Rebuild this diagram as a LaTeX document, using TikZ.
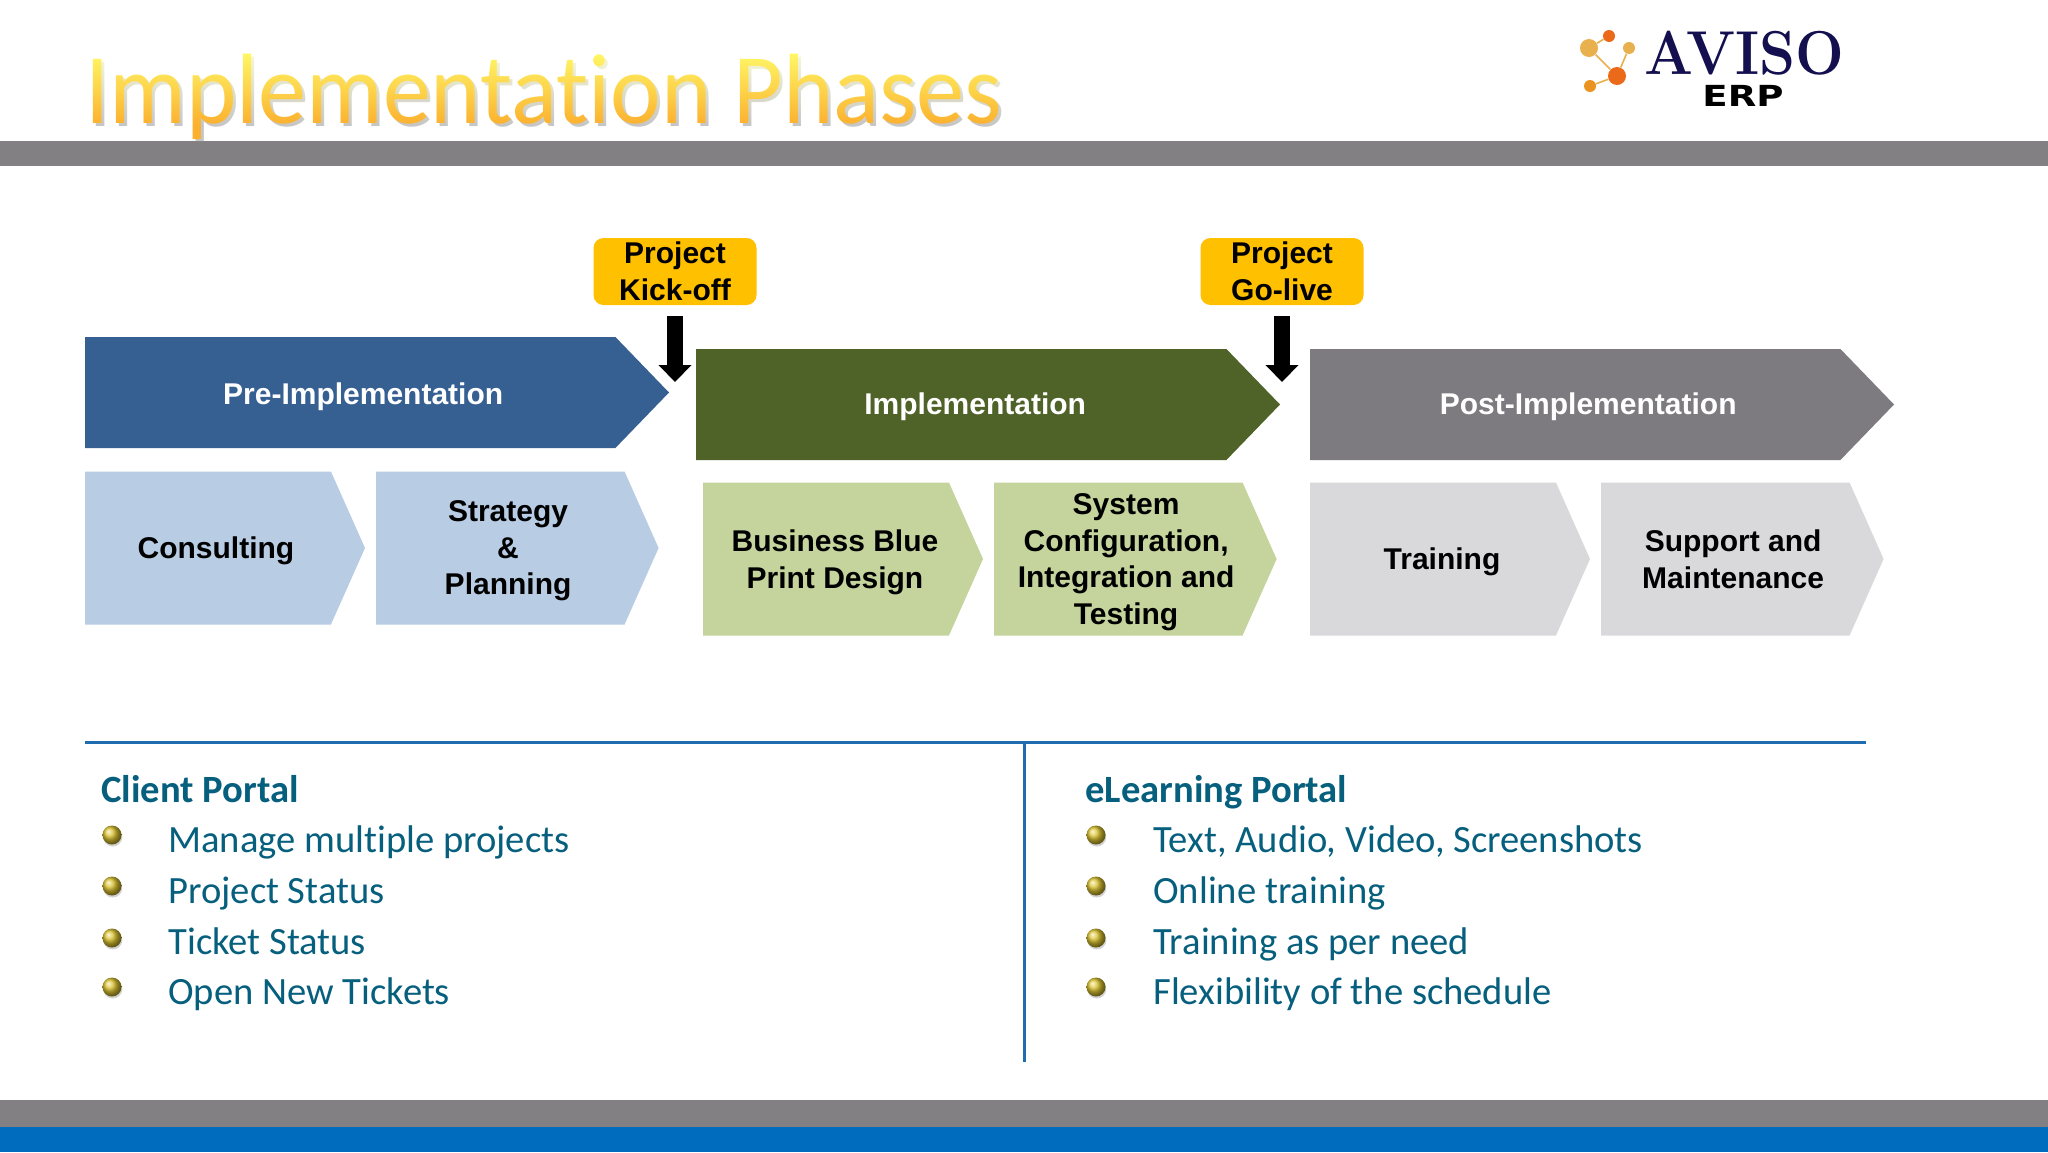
\documentclass[tikz,border=0pt]{standalone}
\usepackage{fontspec}
\setmainfont{Liberation Sans}
\newfontfamily\calibri[Ligatures=NoCommon]{Carlito}
\newfontfamily\dejavu{DejaVu Sans}
\newfontfamily\lmroman{Latin Modern Roman}
\usetikzlibrary{arrows.meta,positioning,shapes.symbols,shadows}
\definecolor{preblue}{HTML}{376092}
\definecolor{implgreen}{HTML}{4F6228}
\definecolor{postgrey}{HTML}{7D7B80}
\definecolor{subblue}{HTML}{B8CCE4}
\definecolor{subgreen}{HTML}{C4D49C}
\definecolor{subgrey}{HTML}{D9D8DB}
\definecolor{mile}{HTML}{FFC000}
\definecolor{bandgrey}{HTML}{828083}
\definecolor{footblue}{HTML}{006CBE}
\definecolor{rule}{HTML}{1F6CB0}
\definecolor{tealtext}{HTML}{075F7E}
\definecolor{titleorange}{HTML}{FBB02E}
\definecolor{avisonavy}{HTML}{14104F}
\definecolor{logolight}{HTML}{E9B04E}
\definecolor{logodeep}{HTML}{EB6A1A}
\definecolor{logomid}{HTML}{EA9320}
\definecolor{bullet}{HTML}{DCC430}
\tikzset{
  phase/.style={signal, signal to=east, signal pointer angle=92, inner sep=0pt, outer sep=0pt,
    minimum height=55.5pt, minimum width=292pt},
  phasetxt/.style={text=white, font=\bfseries\fontsize{15}{18.3}\selectfont},
  task/.style={signal, signal to=east, signal pointer angle=132, inner sep=0pt, outer sep=0pt,
    minimum height=76.5pt, minimum width=140pt},
  taskwide/.style={task, minimum width=141.3pt},
  tasktxt/.style={align=center, font=\bfseries\fontsize{15}{18.3}\selectfont},
  milestone/.style={rectangle, rounded corners=5pt, fill=mile, minimum width=81.5pt, minimum height=33.5pt,
    inner sep=0pt, align=center, font=\bfseries\fontsize{15}{18.3}\selectfont},
  milearrow/.style={line width=8pt, -{Triangle[length=8.5pt,width=16pt]}, shorten <=5.5pt},
  head/.style={anchor=base west, inner sep=0pt, text=tealtext, font=\calibri\bfseries\fontsize{19.3}{21}\selectfont},
  item/.style={anchor=base west, inner sep=0pt, text=tealtext, font=\calibri\fontsize{19.3}{21}\selectfont},
  titletxt/.style={anchor=base west, inner sep=0pt, xscale=.96, transform shape, font=\calibri\fontsize{50}{60}\selectfont},
  ball/.style={circle, minimum size=9.5pt, inner sep=0pt, ball color=bullet,
    drop shadow={shadow xshift=.4pt, shadow yshift=-1pt, opacity=.35}},
  dot/.style={circle, inner sep=0pt}
}
\begin{document}
\begin{tikzpicture}[x=0.5pt,y=-0.5pt]
  \useasboundingbox (0,0) rectangle (2048,1152);
  \fill [white] (0,0) rectangle (2048,1152);

  % bands
  \fill [bandgrey] (0,141) rectangle (2048,166);
  \fill [bandgrey] (0,1100) rectangle (2048,1127);
  \fill [footblue] (0,1127) rectangle (2048,1152);

  % title
  \node (titleshadow) [titletxt, text=black!45, opacity=.5] at (88,126) {Implementation Phases};
  \node (title) [titletxt, text=titleorange] at (85,123) {Implementation Phases};
  \begin{scope}[blend mode=screen]
    \shade [top color=yellow!70!white!95!black, bottom color=black] (80,48) rectangle (1010,125);
  \end{scope}

  % logo
  \node (d1) [dot, fill=logolight, minimum size=9pt] at (1589,48) {};
  \node (d2) [dot, fill=logodeep, minimum size=6pt] at (1609,36) {};
  \node (d3) [dot, fill=logolight, minimum size=6pt] at (1629,48) {};
  \node (d4) [dot, fill=logodeep, minimum size=9pt] at (1617,76) {};
  \node (d5) [dot, fill=logomid, minimum size=6pt] at (1590,86) {};
  \draw [logolight, line width=.8pt] (d1) -- (d2) (d1) -- (d4) (d3) -- (d4) (d5) -- (d4);
  \node (aviso) [anchor=base west, inner sep=0pt, xscale=.93, transform shape, text=avisonavy, font=\lmroman\bfseries\fontsize{31}{31}\selectfont] at (1644,74) {AVISO};
  \node (erp) [anchor=base, inner sep=0pt, xscale=1.28, transform shape, font=\dejavu\bfseries\fontsize{14.5}{15}\selectfont] at (1743,106) {ERP};

  % phases
  \node (pre) [phase, fill=preblue, anchor=west, label={[phasetxt,xshift=6.5pt,yshift=-2pt]center:Pre-Implementation}] at (85,392.5) {};
  \node (impl) [phase, fill=implgreen, anchor=west, label={[phasetxt,xshift=7pt,yshift=-1pt]center:Implementation}] at (696,404.5) {};
  \node (post) [phase, fill=postgrey, anchor=west, label={[phasetxt,xshift=6.5pt,yshift=-1pt]center:Post-Implementation}] at (1310,404.5) {};

  \node (consult) [task, fill=subblue, anchor=west, label={[tasktxt,xshift=4pt,yshift=-1.5pt]center:Consulting}] at (85,548) {};
  \node (strategy) [taskwide, fill=subblue, anchor=west, label={[tasktxt,xshift=3.9pt,yshift=-1.5pt]center:Strategy\\\&\\Planning}] at (376,548) {};
  \node (blue) [task, fill=subgreen, anchor=west, label={[tasktxt,xshift=4.5pt,yshift=-1.5pt]center:Business Blue\\Print Design}] at (703,559) {};
  \node (config) [taskwide, fill=subgreen, anchor=west, label={[tasktxt,xshift=3.9pt,yshift=-1.5pt]center:System\\Configuration,\\Integration and\\Testing}] at (994,559) {};
  \node (train) [task, fill=subgrey, anchor=west, label={[tasktxt,xshift=4.5pt,yshift=-1.5pt]center:Training}] at (1310,559) {};
  \node (support) [taskwide, fill=subgrey, anchor=west, label={[tasktxt,xshift=3.9pt]center:Support and\\Maintenance}] at (1601,559) {};

  % milestones
  \node (kick) [milestone] at (675,271.5) {Project\\Kick-off};
  \node (golive) [milestone] at (1282,271.5) {Project\\Go-live};
  \coordinate (kicktip) at (675,382);
  \coordinate (golivetip) at (1282,382);
  \draw [milearrow] (kick.south) -- (kicktip);
  \draw [milearrow] (golive.south) -- (golivetip);

  % portals
  \coordinate (ruleleft) at (85,742);
  \coordinate (ruleright) at (1866,742);
  \coordinate (ruletop) at (1024,742);
  \coordinate (rulebottom) at (1024,1062);
  \draw [rule, line width=1.5pt] (ruleleft) -- (ruleright);
  \draw [rule, line width=1.5pt] (ruletop) -- (rulebottom);

  \node (client) [head] at (101,802) {Client Portal};
  \node (c1) [item] at (168,852) {Manage multiple projects};
  \node (c2) [item] at (168,903) {Project Status};
  \node (c3) [item] at (168,954) {Ticket Status};
  \node (c4) [item] at (168,1004) {Open New Tickets};
  \node (b1) [ball] at (112,835) {};
  \node (b2) [ball] at (112,886) {};
  \node (b3) [ball] at (112,938) {};
  \node (b4) [ball] at (112,987) {};

  \node (learn) [head] at (1085,802) {eLearning Portal};
  \node (e1) [item] at (1153,852) {Text, Audio, Video, Screenshots};
  \node (e2) [item] at (1153,903) {Online training};
  \node (e3) [item] at (1153,954) {Training as per need};
  \node (e4) [item] at (1153,1004) {Flexibility of the schedule};
  \node (f1) [ball] at (1096,835) {};
  \node (f2) [ball] at (1096,886) {};
  \node (f3) [ball] at (1096,938) {};
  \node (f4) [ball] at (1096,987) {};
\end{tikzpicture}
\end{document}
